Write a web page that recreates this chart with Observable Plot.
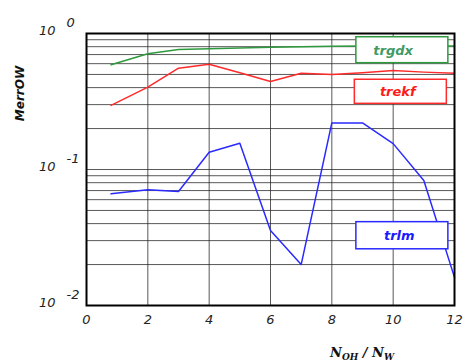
<!DOCTYPE html>
<html>
<head>
<meta charset="utf-8">
<script src="https://cdn.jsdelivr.net/npm/d3@7"></script>
<script src="https://cdn.jsdelivr.net/npm/@observablehq/plot@0.6"></script>
<style>
  body { margin: 0; background: #fff; }
  #chart svg { display: block; }
</style>
</head>
<body>
<div id="chart"></div>
<script>
// ---- data ----
const xs = [0.8, 2, 3, 4, 5, 6, 7, 8, 9, 10, 11, 12];
const trgdx = [0.589, 0.709, 0.763, 0.772, 0.782, 0.793, 0.800, 0.807, 0.81, 0.81, 0.81, 0.81];
const trekf = [0.296, 0.403, 0.556, 0.594, 0.514, 0.444, 0.510, 0.500, 0.515, 0.535, 0.520, 0.510];
const trlm  = [0.0662, 0.0709, 0.0689, 0.134, 0.156, 0.0356, 0.0200, 0.220, 0.220, 0.155, 0.083, 0.0161];

const seriesNames = ["trgdx", "trekf", "trlm"];
const seriesColors = ["#2e9a3e", "#ff2a2a", "#2a2aff"];
const legendTextColors = ["#3f9a66", "#ff1a1a", "#1a1aff"];
// legend boxes (data coordinates)
const legendX1 = [8.8, 8.75, 8.8];
const legendX2 = [11.8, 11.75, 11.8];
const legendY1 = [0.605, 0.304, 0.0259];
const legendY2 = [0.939, 0.457, 0.0410];
const legendTextX = [10.0, 10.15, 10.2];
const legendTextY = [0.75, 0.37, 0.0325];

const xTicks = [0, 2, 4, 6, 8, 10, 12];
const xGrid = [2, 4, 6, 8, 10];
const yDecades = [1, 0.1, 0.01];
const yExponents = ["0", "-1", "-2"];
const yGrid = d3.range(2, 10).flatMap(m => [m * 0.01, m * 0.1]).concat([0.1]);

const rows = [];
xs.forEach((x, i) => {
  rows.push({x, y: trgdx[i], s: "trgdx"});
  rows.push({x, y: trekf[i], s: "trekf"});
  rows.push({x, y: trlm[i], s: "trlm"});
});
const legend = seriesNames.map((s, i) => ({
  s, x1: legendX1[i], x2: legendX2[i], y1: legendY1[i], y2: legendY2[i],
  tx: legendTextX[i], ty: legendTextY[i], stroke: seriesColors[i], tc: legendTextColors[i]
}));
const yLabels = yDecades.map((v, i) => ({v, e: yExponents[i]}));

const plot = Plot.plot({
  width: 464,
  height: 363,
  marginLeft: 86,
  marginRight: 10,
  marginTop: 33,
  marginBottom: 58,
  style: {fontFamily: "DejaVu Sans", fontStyle: "italic", fontSize: "12px", background: "#fff", overflow: "visible"},
  x: {domain: [0, 12], ticks: xTicks, tickSize: 0, tickPadding: 9, label: null},
  y: {type: "log", domain: [0.01, 1], axis: null},
  color: {domain: seriesNames, range: seriesColors},
  marks: [
    Plot.gridX(xGrid, {stroke: "#222", strokeOpacity: 0.75, strokeWidth: 1}),
    Plot.gridY(yGrid, {stroke: "#222", strokeOpacity: 0.75, strokeWidth: 1}),
    Plot.line(rows, {x: "x", y: "y", z: "s", stroke: "s", strokeWidth: 1.5}),
    Plot.rect(legend, {x1: "x1", x2: "x2", y1: "y1", y2: "y2", fill: "white", stroke: "stroke", strokeWidth: 1.5}),
    Plot.text(legend, {x: "tx", y: "ty", text: "s", fill: "tc", fontWeight: "bold", fontSize: 13, fontStyle: "italic", style: "letter-spacing:1.5px"}),
    Plot.frame({stroke: "#000", strokeWidth: 2}),
    Plot.text(yLabels, {y: "v", text: () => "10", frameAnchor: "left", dx: -31, dy: -3, textAnchor: "end", fontSize: 13, fill: "#222"}),
    Plot.text(yLabels, {y: "v", text: "e", frameAnchor: "left", dx: -20, dy: -11, textAnchor: "start", fontSize: 13, fill: "#222"}),
    Plot.text(["MerrOW"], {frameAnchor: "top-left", dx: -71, dy: 60, rotate: -90, textAnchor: "middle", fontWeight: "bold", fontSize: 12, fill: "#111"}),
    Plot.axisX({ticks: xTicks, tickSize: 0, tickPadding: 9, fontSize: 13, fill: "#222", label: null})
  ]
});
document.getElementById("chart").appendChild(plot);

// x axis title with subscripts
const svg = d3.select(plot);
const t = svg.append("text")
  .attr("x", 362).attr("y", 357)
  .attr("text-anchor", "middle")
  .attr("font-family", "DejaVu Serif")
  .attr("font-weight", "bold")
  .attr("font-style", "italic")
  .attr("font-size", 13)
  .attr("fill", "#111");
t.append("tspan").text("N");
t.append("tspan").attr("font-size", 9).attr("dy", 3).text("OH");
t.append("tspan").attr("dy", -3).text(" / N");
t.append("tspan").attr("font-size", 9).attr("dy", 3).text("W");
</script>
</body>
</html>
